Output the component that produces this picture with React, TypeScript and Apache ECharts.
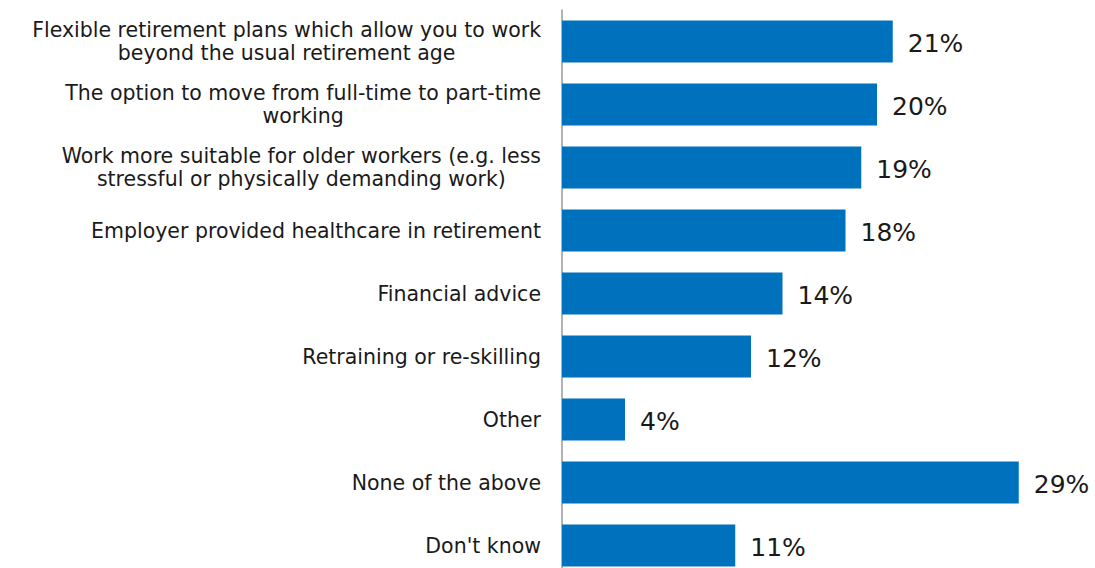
import React, { useEffect, useRef } from "react";
import * as echarts from "echarts";

const categories = [
  "Flexible retirement plans which allow you to work\nbeyond the usual retirement age",
  "The option to move from full-time to part-time\nworking",
  "Work more suitable for older workers (e.g. less\nstressful or physically demanding work)",
  "Employer provided healthcare in retirement",
  "Financial advice",
  "Retraining or re-skilling",
  "Other",
  "None of the above",
  "Don't know",
];
const values = [21, 20, 19, 18, 14, 12, 4, 29, 11];

const FONT = "'DejaVu Sans', Verdana, sans-serif";

export default function App() {
  const ref = useRef<HTMLDivElement>(null);
  useEffect(() => {
    if (!ref.current) return;
    const chart = echarts.init(ref.current, null, { renderer: "svg" });
    chart.setOption({
      animation: false,
      backgroundColor: "#ffffff",
      grid: { left: 562, width: 472.5, top: 10, height: 567, containLabel: false },
      xAxis: {
        type: "value",
        min: 0,
        max: 30,
        show: false,
        splitLine: { show: false },
      },
      yAxis: {
        type: "category",
        inverse: true,
        data: categories,
        axisTick: { show: false },
        axisLine: { show: true, lineStyle: { color: "#9a9a9a", width: 1.5 } },
        axisLabel: {
          margin: 21,
          color: "#1a1a1a",
          fontFamily: FONT,
          fontSize: 20.5,
          lineHeight: 23,
          formatter: (v: string) =>
            v
              .split("\n")
              .map((l) => `{c|${l}}`)
              .join("\n"),
          rich: {
            c: {
              align: "center",
              color: "#1a1a1a",
              fontFamily: FONT,
              fontSize: 20.5,
              lineHeight: 23,
            },
          },
        },
      },
      series: [
        {
          type: "bar",
          data: values,
          barCategoryGap: "33%",
          itemStyle: { color: "#0071BC" },
          label: {
            show: true,
            position: "right",
            distance: 15,
            offset: [0, 2],
            formatter: "{c}%",
            color: "#1a1a1a",
            fontFamily: FONT,
            fontSize: 25,
          },
        },
      ],
    });
    return () => chart.dispose();
  }, []);
  return (
    <div
      style={{
        position: "absolute",
        left: 0,
        top: 0,
        width: 1095,
        height: 568,
        overflow: "hidden",
      }}
    >
      <div ref={ref} style={{ width: 1095, height: 580 }} />
    </div>
  );
}
